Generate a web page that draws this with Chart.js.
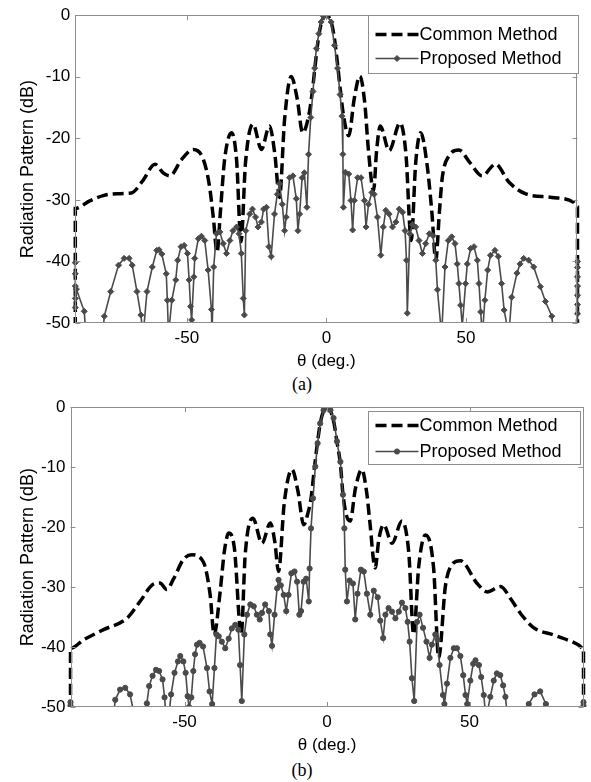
<!DOCTYPE html>
<html>
<head>
<meta charset="utf-8">
<script src="https://cdn.jsdelivr.net/npm/chart.js@4.4.1/dist/chart.umd.min.js"></script>
<style>
  body { margin: 0; background: #fff; }
  #page { position: relative; width: 591px; height: 782px; overflow: hidden; }
  canvas { position: absolute; left: 0; }
  .cap { position: absolute; width: 60px; text-align: center; font: 18px "Liberation Serif", "Times New Roman", serif; line-height: 20px; color: #000; }
</style>
</head>
<body>
<div id="page">
  <canvas id="chartA" width="591" height="372" style="top:0"></canvas>
  <div class="cap" style="left:272px; top:374px">(a)</div>
  <canvas id="chartB" width="591" height="364" style="top:392px"></canvas>
  <div class="cap" style="left:272px; top:760px">(b)</div>
</div>
<script>
"use strict";

const xTickValues = [-50, 0, 50];
const yTickValues = [0, -10, -20, -30, -40, -50];

// (a) common method
const thetaCommonA = [-90, -90, -85, -80, -75, -70, -66, -61.4, -58.5, -56.1, -52, -47.7, -44.2, -42, -40.5, -39.2, -38, -36.5, -34, -32.2, -30.6, -29, -26.3, -23.3, -20.4, -18.5, -16.8, -15, -12.6, -10.5, -8.5, -6.2, -5, -4, -3, -2, -1, 0, 1, 2, 3, 4, 5, 6.2, 8, 10, 12, 13.8, 15, 16.9, 18, 19.3, 22.5, 26.4, 28.5, 30.4, 32, 33.8, 36, 37.8, 39.2, 40.5, 41.5, 44, 47.5, 51.5, 55.8, 60.6, 65.4, 71.3, 80.8, 88.6, 90, 90];
const commonA = [-56, -31.4, -30.2, -29.3, -29.0, -28.9, -27, -24.2, -25.6, -26.1, -23.5, -21.8, -23.3, -27.5, -33, -38.5, -32, -23.5, -19.1, -23.5, -36.8, -24, -17.7, -21.8, -18.0, -22.5, -29.6, -17, -9.95, -13.5, -19.1, -16, -12.2, -8, -4.2, -1.6, -0.4, 0, -0.4, -1.6, -4.2, -8, -12.2, -16.5, -19.6, -13.5, -9.9, -14.5, -21.6, -28.5, -22, -18, -22, -17.5, -22.5, -36.6, -24, -19.1, -24, -32, -39.8, -32, -26.5, -22.8, -21.9, -24, -26.1, -24.2, -27.1, -29, -29.6, -30.4, -31.2, -56];

// (a) proposed method
const thetaPropA = [-90, -90, -90, -90, -90, -89.6, -86.8, -86.2, -80.2, -79.6, -77.3, -74.5, -72.5, -70.7, -69.6, -67.9, -66.5, -65.7, -64.3, -62.4, -60.8, -60, -59, -57.4, -57, -56.6, -55.4, -54, -53.3, -52.1, -51, -49.8, -49.2, -48.7, -48.3, -47.5, -47.2, -45.9, -44.8, -43.6, -42.4, -41.2, -41, -40.4, -39.4, -38.2, -37, -35.8, -34.6, -33.5, -32.2, -31.3, -30.5, -29.8, -29.4, -28.9, -27.5, -26.5, -25.4, -24.5, -23.3, -22.5, -21.5, -20.6, -19.8, -18.6, -17.6, -16.8, -15.8, -15, -14.4, -13.2, -12, -10.8, -10.2, -9.6, -8.7, -7.9, -7, -6.4, -5.6, -4.8, -4.2, -3.6, -2.7, -1.9, -1, 0, 1.7, 2.9, 4, 4.9, 5.6, 5.9, 6.1, 6.8, 8, 8.8, 9.4, 10, 11.2, 12.4, 13.6, 14.2, 15.1, 16.3, 17.1, 18.3, 19.5, 20.4, 21.3, 22.5, 23.7, 24.9, 26.1, 27.3, 28.2, 28.7, 29, 29.9, 30.8, 32, 33.2, 34.4, 35.6, 36.9, 38.2, 39.2, 39.8, 41.3, 42.5, 43.7, 44.9, 46.1, 46.9, 47.5, 48.1, 48.7, 49.9, 50.5, 51.7, 52.9, 54.1, 54.7, 55.3, 55.9, 56.8, 57.8, 58.8, 60.4, 61.6, 62.8, 63.7, 65.4, 66.4, 68.3, 69.4, 70.7, 72.5, 74.3, 76.7, 78.5, 80.8, 81.5, 89.8, 90, 90, 90, 90, 90, 90, 90, 90];
const propA = [-40.2, -42, -44, -46, -47.5, -44.5, -48.1, -52, -52, -48.9, -44.9, -40.6, -39.5, -39.5, -40.6, -44.9, -48.7, -52, -44.9, -40.9, -38.2, -38.1, -38.8, -42, -46.3, -52, -46.3, -43, -39.8, -37.6, -37.4, -38.7, -43, -47.3, -49.5, -42.5, -39.5, -36.3, -35.9, -36.6, -41.4, -47.8, -52, -40.9, -35.5, -35.2, -37.1, -38.7, -36.6, -35, -34.4, -35.5, -38.7, -46, -48.7, -35, -32.3, -31.5, -32.8, -34.4, -33.6, -31.5, -31.2, -37.6, -39.2, -32.3, -29.1, -27.4, -30.7, -35, -32.8, -26.4, -26.1, -29.8, -35, -32.3, -26.4, -25.6, -31.2, -22.6, -16.6, -12.4, -8.6, -5.4, -3, -1.1, -0.2, 0, -1.1, -4.9, -8.6, -12.9, -16.4, -22.6, -31.2, -25.5, -25.8, -30.1, -34.9, -30.1, -26.4, -26.4, -30.1, -34.4, -30.7, -28.8, -29.1, -32.8, -39, -34.4, -31.7, -32.3, -34.4, -33.6, -31.5, -32, -35, -39.8, -48.4, -35.5, -34, -34.4, -36.6, -38.7, -37.1, -35.5, -35.8, -39.8, -44.6, -52, -40.9, -36.6, -36, -37.1, -40.4, -43.6, -47.1, -50.5, -43.6, -40.4, -37.9, -37.6, -39.8, -43.6, -48.2, -52, -46.3, -41.4, -39, -38.2, -39.2, -43.6, -47.9, -52, -45.8, -41.9, -40.4, -39.5, -39.8, -40.9, -44.1, -46.5, -48.9, -52, -52, -50.3, -48.5, -47, -45.5, -44, -42.5, -41, -40];

// (b) common method
const thetaCommonB = [-90, -90, -85.4, -78.4, -70.2, -65.6, -60.9, -58.6, -56.2, -53.8, -50.4, -47.4, -43.3, -41, -39.6, -37.5, -36, -34.5, -32.5, -30.1, -28.7, -26, -22.8, -19.9, -18.3, -17, -15, -12.3, -10.2, -8.2, -6.6, -5.6, -4.5, -3.5, -2.4, -1.2, 0, 1.2, 2.4, 3.5, 4.7, 5.6, 6.8, 8.1, 10, 12.2, 14, 15, 16.9, 18.2, 19.9, 22.8, 26.3, 28.7, 30.4, 32.2, 34.5, 37.4, 39.2, 41.5, 43.5, 46.8, 52.7, 56.2, 60.9, 64.5, 67.9, 72.6, 79.6, 88.4, 90, 90];
const commonB = [-56, -40.2, -38.8, -37.1, -35.2, -32.4, -29.5, -29.3, -30.4, -28.6, -25.4, -24.6, -25.9, -31.3, -37.9, -30.8, -24, -21, -23.5, -37.9, -24.6, -18.5, -22.7, -19.3, -22.5, -27.4, -16, -10.4, -14, -19.6, -17.5, -15.2, -10.5, -6.5, -2.8, -0.6, 0, -0.6, -2.5, -5.8, -9.5, -14.5, -18, -19, -13.5, -10.4, -14.5, -19, -26.8, -22, -19.6, -22.7, -19, -24.3, -37.9, -26.5, -21.3, -26.8, -41.8, -30, -26.5, -25.6, -29.4, -30.8, -29.9, -32, -34.4, -36.8, -38, -39.7, -40.3, -56];

// (b) proposed method
const thetaPropB = [-90, -90, -90, -89.5, -75, -74.3, -72.6, -70.8, -69.1, -68, -67.5, -63.6, -63.2, -62.4, -61.2, -60, -58.9, -57.7, -57, -56.4, -55.8, -54.7, -53.5, -52.3, -51.5, -50.4, -49.6, -48.9, -48.4, -47.6, -46.9, -46.3, -45.6, -44.7, -43.5, -42.1, -41.2, -40.3, -39.5, -38.8, -38, -36.9, -35.7, -34.5, -33.4, -32.2, -31.1, -30.5, -29.9, -29, -28.1, -26.9, -25.7, -24.6, -23.6, -22.8, -21.7, -20.4, -19.9, -19.3, -18.4, -17.5, -17, -16.2, -15.2, -14.3, -13.5, -12.5, -11.4, -10.5, -9.7, -9.1, -8.2, -7.3, -6.4, -6.1, -5.6, -4.9, -4.1, -3.3, -2.4, -1.2, 0, 1.2, 2.3, 3.5, 4.7, 5.6, 6.1, 6.4, 7, 7.9, 9.1, 9.9, 10.7, 11.9, 12.9, 14, 15.2, 16.4, 17.8, 18.7, 19.7, 20.5, 21.6, 22.8, 24, 25.2, 26.3, 27.5, 28.3, 29, 29.8, 30.6, 31.6, 32.5, 33.7, 34.9, 36, 36.8, 38, 38.8, 39.5, 40.7, 41.2, 42.1, 43.3, 44.5, 45.6, 46.8, 47.8, 48.6, 49.2, 50.3, 51.3, 52.1, 53.3, 54.1, 55, 55.8, 57.3, 58.5, 59.6, 60.8, 61.8, 62.6, 63.4, 70.2, 70.8, 72.8, 74.8, 76.8, 77.5, 89.6, 90, 90, 90];
const propB = [-52, -49.8, -49.2, -52, -52, -48.8, -47.1, -46.8, -47.9, -50.5, -52, -52, -49.4, -46.5, -44.8, -43.8, -44, -45.4, -48.4, -52, -53, -47.9, -44.3, -42.4, -41.5, -42.4, -44.3, -48.2, -50, -48.4, -44, -41.2, -39.6, -39.3, -39.9, -43.5, -47.4, -49.5, -43.5, -37.9, -38.2, -39.1, -40.2, -38.6, -36.9, -36.3, -37.1, -43, -49, -37.9, -34.6, -32.9, -33.2, -34.6, -35.4, -34.3, -32.9, -34, -37.9, -39.8, -34.6, -30.2, -28.8, -29.7, -31.3, -34, -31.3, -27.7, -27.4, -29.1, -34.6, -34, -29.1, -28.6, -32.4, -26.9, -20.2, -15.2, -9.9, -6, -2.7, -0.5, 0, -0.5, -1.8, -5.7, -9.1, -14.6, -20.2, -27.1, -32.4, -28.9, -29.4, -35.4, -31.1, -27.1, -27.4, -31.1, -34.6, -30.6, -31.7, -35.6, -38.5, -34.6, -33.5, -34.1, -35.2, -34.1, -32.6, -33.5, -35.8, -39.1, -45.2, -49, -35.8, -34.6, -36.8, -39.1, -41.8, -39.6, -37.9, -38.8, -43, -48, -49.5, -46.1, -41.8, -40.2, -40.2, -41.5, -44.7, -48, -49.5, -45.6, -42.8, -42.2, -43, -45, -48, -52, -48.3, -45.6, -44.4, -44.7, -46.4, -48.3, -52, -52, -49.5, -47.9, -47.4, -49.5, -52, -52, -49.2, -49.8, -52];

const FONT = '"Liberation Sans", Arial, sans-serif';
const AXIS_GRAY = "#8e8e8e";
const PROP_GRAY = "#4a4a4a";

function toPoints(xs, ys) {
  return xs.map((x, i) => ({ x, y: ys[i] }));
}

// box + inward ticks, MATLAB style
const framePlugin = {
  id: "frame",
  afterDatasetsDraw(chart) {
    const { ctx, chartArea: a, scales } = chart;
    ctx.save();
    ctx.strokeStyle = AXIS_GRAY;
    ctx.lineWidth = 1;
    ctx.setLineDash([]);
    ctx.strokeRect(Math.round(a.left) + 0.5, Math.round(a.top) + 0.5, Math.round(a.width) - 1, Math.round(a.height) - 1);
    ctx.beginPath();
    xTickValues.forEach((v) => {
      const px = Math.round(scales.x.getPixelForValue(v)) + 0.5;
      ctx.moveTo(px, a.bottom); ctx.lineTo(px, a.bottom - 5);
      ctx.moveTo(px, a.top); ctx.lineTo(px, a.top + 5);
    });
    yTickValues.forEach((v) => {
      const py = Math.round(scales.y.getPixelForValue(v)) + 0.5;
      ctx.moveTo(a.left, py); ctx.lineTo(a.left + 5, py);
      ctx.moveTo(a.right, py); ctx.lineTo(a.right - 5, py);
    });
    ctx.stroke();
    ctx.restore();
  },
};

const boxLegend = {
  id: "boxLegend",
  afterDraw(chart, args, opts) {
    const { ctx, chartArea: a } = chart;
    const bx = Math.round(a.right - opts.inset - opts.width) + 0.5;
    const by = Math.round(a.top + opts.insetTop) + 0.5;
    ctx.save();
    ctx.fillStyle = "#fff";
    ctx.strokeStyle = AXIS_GRAY;
    ctx.lineWidth = 1;
    ctx.fillRect(bx, by, opts.width, opts.height);
    ctx.strokeRect(bx, by, opts.width, opts.height);
    ctx.font = "18px " + FONT;
    ctx.textBaseline = "middle";
    chart.data.datasets.forEach((ds, i) => {
      const y = by + opts.rows[i];
      ctx.strokeStyle = ds.borderColor;
      ctx.lineWidth = ds.borderWidth;
      ctx.setLineDash(ds.borderDash || []);
      ctx.beginPath();
      ctx.moveTo(bx + 7, y);
      ctx.lineTo(bx + 50, y);
      ctx.stroke();
      ctx.setLineDash([]);
      if (ds.pointRadius > 0) {
        ctx.fillStyle = ds.pointBackgroundColor;
        ctx.lineWidth = 1;
        Chart.helpers.drawPoint(ctx, { pointStyle: ds.pointStyle, radius: ds.pointRadius, borderWidth: 1, rotation: 0 }, bx + 28.5, y);
      }
      ctx.fillStyle = "#000";
      ctx.fillText(ds.label, bx + 51, y + 1);
    });
    ctx.restore();
  },
};

function makePanel(id, common, prop, marker, layout) {
  const ctx = document.getElementById(id).getContext("2d");
  return new Chart(ctx, {
    type: "line",
    data: {
      datasets: [
        {
          label: "Common Method",
          data: common,
          borderColor: "#000",
          borderWidth: 3.5,
          borderDash: [11, 5],
          pointRadius: 0,
          cubicInterpolationMode: "monotone",
          order: 2,
          clip: { left: 4, right: 4, top: 0, bottom: 0 },
        },
        {
          label: "Proposed Method",
          data: prop,
          borderColor: PROP_GRAY,
          backgroundColor: PROP_GRAY,
          pointBackgroundColor: PROP_GRAY,
          pointBorderColor: PROP_GRAY,
          borderWidth: 1.6,
          pointStyle: marker.style,
          pointRadius: marker.radius,
          pointBorderWidth: 1,
          tension: 0,
          order: 1,
          clip: { left: 4, right: 4, top: 0, bottom: 0 },
        },
      ],
    },
    options: {
      responsive: false,
      animation: false,
      events: [],
      layout: { padding: { top: layout.top, right: layout.right, left: 0, bottom: 0 } },
      plugins: {
        legend: { display: false },
        tooltip: { enabled: false },
        boxLegend: layout.legend,
      },
      scales: {
        x: {
          type: "linear",
          min: -90,
          max: 90,
          afterBuildTicks: (s) => { s.ticks = xTickValues.map((v) => ({ value: v })); },
          afterFit: (s) => { s.height = 49; },
          grid: { display: false, drawTicks: false },
          border: { display: false },
          ticks: { color: "#000", font: { family: FONT, size: 17 }, padding: 5, maxRotation: 0 },
          title: { display: true, text: "θ (deg.)", color: "#000", font: { family: FONT, size: 17 }, padding: { top: 0, bottom: 0 } },
        },
        y: {
          type: "linear",
          min: -50,
          max: 0,
          afterBuildTicks: (s) => { s.ticks = yTickValues.map((v) => ({ value: v })); },
          afterFit: (s) => { s.width = layout.yWidth; },
          grid: { display: false, drawTicks: false },
          border: { display: false },
          ticks: { color: "#000", font: { family: FONT, size: 17 }, padding: 5 },
          title: { display: true, text: "Radiation Pattern (dB)", color: "#000", font: { family: FONT, size: 18 }, padding: { top: 17, bottom: 0 } },
        },
      },
    },
    plugins: [framePlugin, boxLegend],
  });
}

makePanel("chartA", toPoints(thetaCommonA, commonA), toPoints(thetaPropA, propA),
  { style: "rectRot", radius: 3 },
  { top: 13, right: 13.5, yWidth: 75.3, legend: { inset: 0, insetTop: 0, width: 210, height: 58, rows: [19, 43] } });

makePanel("chartB", toPoints(thetaCommonB, commonB), toPoints(thetaPropB, propB),
  { style: "circle", radius: 2.6 },
  { top: 13.5, right: 7.5, yWidth: 70.5, legend: { inset: 3.5, insetTop: 4, width: 212, height: 53, rows: [14, 40] } });
</script>
</body>
</html>
